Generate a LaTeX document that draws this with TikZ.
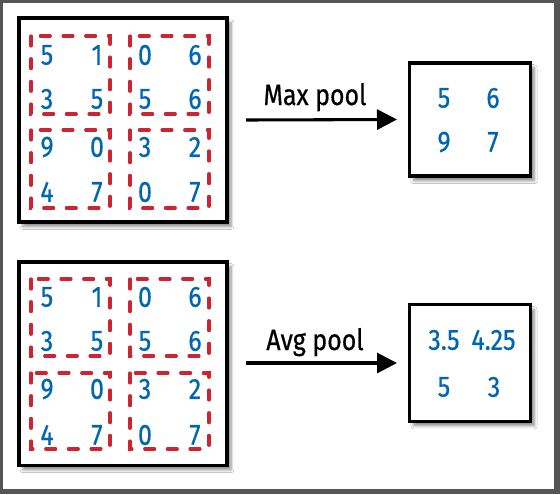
\documentclass[tikz,border=0pt]{standalone}
\usepackage{fontspec}
\setmainfont{Fira Sans}[FakeStretch=0.85,FakeBold=0.6]
\usetikzlibrary{arrows.meta,shadows.blur}
\definecolor{numblue}{RGB}{0,102,178}
\definecolor{dashred}{RGB}{204,36,48}
\definecolor{framegray}{RGB}{85,85,85}
\begin{document}
\begin{tikzpicture}[x=0.75pt,y=-0.75pt,
  bigbox/.style={draw=black,line width=2.6pt,fill=white,inner sep=0pt,
    blur shadow={shadow xshift=3pt,shadow yshift=-3.5pt,shadow blur steps=6,shadow opacity=45}},
  poolbox/.style={draw=dashred,line width=2.3pt,dash pattern=on 7.5pt off 9.5pt,line cap=round},
  num/.style={text=numblue,font=\fontsize{22}{26}\selectfont,inner sep=0pt},
  lab/.style={text=black,font=\fontsize{22}{26}\selectfont,inner sep=0pt,anchor=base},
  arr/.style={draw=black,line width=2.3pt,-{Triangle[length=15pt,width=15pt]}}]
\useasboundingbox (0,0) rectangle (560,494);
\fill[framegray] (0,0) rectangle (560,494);
\fill[white] (3,3) rectangle (554,489);

% ---------- top row ----------
\node[bigbox,minimum width=156pt,minimum height=153pt] (in1) at (123,120) {};
\draw[poolbox] (31,36) rectangle (110,114);
\draw[poolbox] (130,36) rectangle (209,114);
\draw[poolbox] (31,130) rectangle (110,208);
\draw[poolbox] (130,130) rectangle (209,208);
\node[num] (a11) at (47,55) {5};
\node[num] (a12) at (97,55) {1};
\node[num] (a13) at (145,55) {0};
\node[num] (a14) at (195,55) {6};
\node[num] (a21) at (47,99) {3};
\node[num] (a22) at (97,99) {5};
\node[num] (a23) at (145,99) {5};
\node[num] (a24) at (195,99) {6};
\node[num] (a31) at (47,147) {9};
\node[num] (a32) at (97,147) {0};
\node[num] (a33) at (145,147) {3};
\node[num] (a34) at (195,147) {2};
\node[num] (a41) at (47,192) {4};
\node[num] (a42) at (97,192) {7};
\node[num] (a43) at (145,192) {0};
\node[num] (a44) at (195,192) {7};

\node[bigbox,minimum width=90.4pt,minimum height=85pt] (out1) at (470,119.5) {};
\node[num] (m11) at (444,98) {5};
\node[num] (m12) at (493,98) {6};
\node[num] (m21) at (444,142) {9};
\node[num] (m22) at (493,142) {7};

\coordinate (s1) at (246,120);
\draw[arr] (s1) -- (out1.west -| 397,0);
\node[lab] (l1) at (315,105) {Max pool};

% ---------- bottom row ----------
\node[bigbox,minimum width=156pt,minimum height=152.6pt] (in2) at (123,363.5) {};
\draw[poolbox] (31,279) rectangle (110,356);
\draw[poolbox] (130,279) rectangle (209,356);
\draw[poolbox] (31,373) rectangle (110,449);
\draw[poolbox] (130,373) rectangle (209,449);
\node[num] (b11) at (47,297) {5};
\node[num] (b12) at (97,297) {1};
\node[num] (b13) at (145,297) {0};
\node[num] (b14) at (195,297) {6};
\node[num] (b21) at (47,341) {3};
\node[num] (b22) at (97,341) {5};
\node[num] (b23) at (145,341) {5};
\node[num] (b24) at (195,341) {6};
\node[num] (b31) at (47,389) {9};
\node[num] (b32) at (97,389) {0};
\node[num] (b33) at (145,389) {3};
\node[num] (b34) at (195,389) {2};
\node[num] (b41) at (47,435) {4};
\node[num] (b42) at (97,435) {7};
\node[num] (b43) at (145,435) {0};
\node[num] (b44) at (195,435) {7};

\node[bigbox,minimum width=90.4pt,minimum height=87.4pt] (out2) at (470,363) {};
\node[num] (v11) at (444,340) {3.5};
\node[num] (v12) at (493.5,340) {4.25};
\node[num] (v21) at (444,387) {5};
\node[num] (v22) at (494,387) {3};

\coordinate (s2) at (246,363);
\draw[arr] (s2) -- (out2.west -| 397,0);
\node[lab] (l2) at (315,350) {Avg pool};
\end{tikzpicture}
\end{document}
